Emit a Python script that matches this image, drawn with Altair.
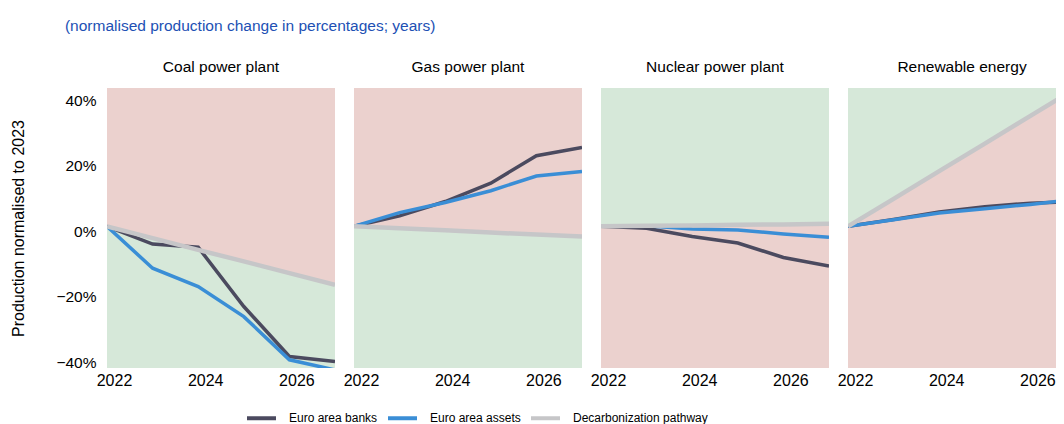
import altair as alt
import pandas as pd

YEARS = [2022, 2023, 2024, 2025, 2026, 2027]
SECTORS = ["Coal power plant", "Gas power plant", "Nuclear power plant", "Renewable energy"]

BANKS = {
    "Coal power plant": [0, -5.4, -6.4, -24.5, -39.8, -41.3],
    "Gas power plant": [0, 3.2, 7.6, 13.2, 21.6, 24.1],
    "Nuclear power plant": [0, -0.6, -3.1, -5.1, -9.5, -12.1],
    "Renewable energy": [0, 2.1, 4.4, 6.0, 7.1, 7.6],
}
ASSETS = {
    "Coal power plant": [0, -12.8, -18.4, -27.6, -40.8, -43.9],
    "Gas power plant": [0, 4.2, 7.3, 10.9, 15.4, 16.8],
    "Nuclear power plant": [0, 0.2, -0.8, -1.1, -2.3, -3.3],
    "Renewable energy": [0, 2.0, 4.1, 5.4, 6.7, 8.3],
}
PATHWAY = {
    "Coal power plant": [0, -3.6, -7.2, -10.7, -14.3, -17.9],
    "Gas power plant": [0, -0.6, -1.2, -1.9, -2.5, -3.1],
    "Nuclear power plant": [0, 0.2, 0.3, 0.5, 0.6, 0.8],
    "Renewable energy": [0, 8.4, 16.9, 25.3, 33.8, 42.2],
}
# which side of the pathway is "good" (green)
ABOVE_IS_GOOD = {
    "Coal power plant": False,
    "Gas power plant": False,
    "Nuclear power plant": True,
    "Renewable energy": True,
}
SERIES = ["Euro area banks", "Euro area assets", "Decarbonization pathway"]
SERIES_COLORS = ["#4b4a5f", "#3a8ed6", "#c6c6c8"]
TONE_COLORS = {"bad": "#ebd1ce", "good": "#d6e8d9"}

Y_DOMAIN = [-43.3, 42.3]
X_DOMAIN = [2022, 2027]
X_TICKS = [2022, 2024, 2026]

rows = []
area_rows = []
for s in SECTORS:
    for i, yr in enumerate(YEARS):
        rows.append({"sector": s, "year": yr, "series": SERIES[0], "value": BANKS[s][i]})
        rows.append({"sector": s, "year": yr, "series": SERIES[1], "value": ASSETS[s][i]})
        rows.append({"sector": s, "year": yr, "series": SERIES[2], "value": PATHWAY[s][i]})
        up_tone = "good" if ABOVE_IS_GOOD[s] else "bad"
        lo_tone = "bad" if ABOVE_IS_GOOD[s] else "good"
        area_rows.append({"sector": s, "year": yr, "zone": "upper", "tone": up_tone,
                          "low": PATHWAY[s][i], "high": Y_DOMAIN[1]})
        area_rows.append({"sector": s, "year": yr, "zone": "lower", "tone": lo_tone,
                          "low": Y_DOMAIN[0], "high": PATHWAY[s][i]})
lines_df = pd.DataFrame(rows)
area_df = pd.DataFrame(area_rows)

FONT = "Liberation Sans"

y_axis = alt.Axis(
    values=[-40, -20, 0, 20, 40],
    labelExpr="(datum.value < 0 ? '\u2212' + abs(datum.value) : datum.value) + '%'",
    title="Production normalised to 2023",
    titleFontWeight="normal", titleFontSize=16, titleFont=FONT, titleColor="#000000",
    titlePadding=29.5,
    labelFontSize=15.5, labelFont=FONT, labelColor="#000000",
    labelPadding=11, labelOffset=5,
    grid=False, domain=False, ticks=False, tickSize=0,
)


def make_panel(idx, sector):
    xs = alt.Scale(domain=X_DOMAIN, nice=False, zero=False)
    ys = alt.Scale(domain=Y_DOMAIN, nice=False, zero=False)
    x_axis = alt.Axis(values=X_TICKS, format="d", title=None, labelFontSize=16, labelFont=FONT,
                      labelColor="#000000", labelPadding=4, labelOffset=7, grid=False,
                      domain=False, ticks=False, tickSize=0, labelFlush=False)
    yax = y_axis if idx == 0 else None
    x = alt.X("year:Q", scale=xs, axis=x_axis)

    area = alt.Chart(area_df[area_df.sector == sector]).mark_area(clip=True).encode(
        x=x,
        y=alt.Y("low:Q", scale=ys, axis=yax),
        y2="high:Q",
        fill=alt.Fill("tone:N", scale=alt.Scale(domain=list(TONE_COLORS.keys()),
                                                range=list(TONE_COLORS.values())), legend=None),
        detail="zone:N",
    )
    layers = [area]
    widths = {SERIES[0]: 3.5, SERIES[1]: 3.5, SERIES[2]: 4.5}
    for ser in SERIES:
        sub = lines_df[(lines_df.sector == sector) & (lines_df.series == ser)]
        layers.append(
            alt.Chart(sub).mark_line(clip=True, strokeWidth=widths[ser]).encode(
                x=x,
                y=alt.Y("value:Q", scale=ys, axis=yax),
                color=alt.Color("series:N", scale=alt.Scale(domain=SERIES, range=SERIES_COLORS),
                                legend=alt.Legend(
                                    title=None, orient="none", legendX=138, legendY=313.5,
                                    direction="horizontal", symbolType="stroke", symbolSize=841,
                                    symbolStrokeWidth=4, labelFont=FONT, labelFontSize=12,
                                    labelColor="#000000", labelOffset=11, columnPadding=2,
                                    labelLimit=400,
                                )),
            )
        )
    return alt.layer(*layers).properties(
        width=228, height=280,
        title=alt.Title(text=sector, fontSize=15.5, font=FONT, fontWeight="normal",
                        color="#000000", offset=12.5),
    )


panels = [make_panel(i, s) for i, s in enumerate(SECTORS)]

# Fixed canvas (autosize none): the layout origin (first panel's plot corner) sits
# at the padding offset; the canvas stops at the page's right margin, cutting the
# last panel as in the reference.
chart = alt.hconcat(*panels, spacing=19, bounds="flush").resolve_scale(
    x="independent", y="independent", color="shared", fill="shared"
).properties(
    title=alt.Title(text="(normalised production change in percentages; years)",
                    anchor="start", fontSize=15.5, font=FONT, fontWeight="normal",
                    color="#2150b4", dx=54.5, offset=26),
    autosize=alt.AutoSizeParams(type="none"),
    padding={"left": 99, "top": 80, "right": 949, "bottom": 342},
).configure_view(strokeWidth=0)

chart.save("out.html", embed_options={"renderer": "svg", "actions": False})
